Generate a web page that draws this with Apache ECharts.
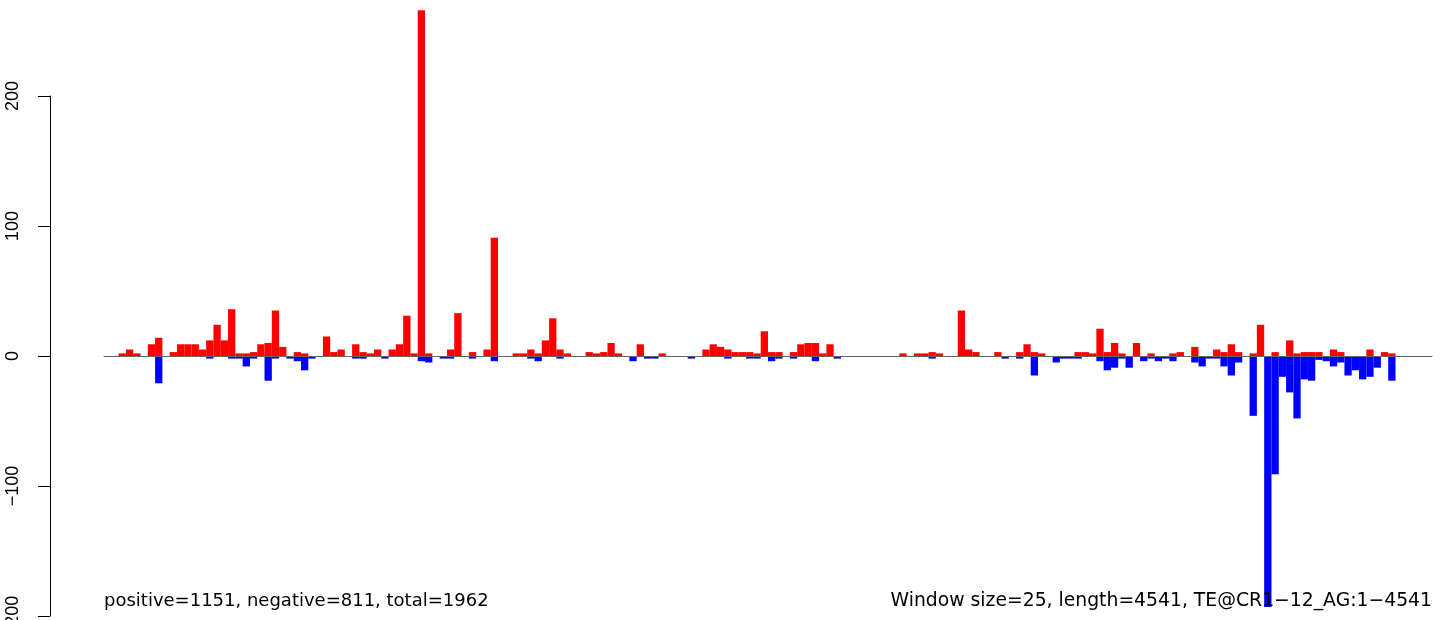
<!DOCTYPE html>
<html>
<head>
<meta charset="utf-8">
<script src="https://cdn.jsdelivr.net/npm/echarts@6/dist/echarts.min.js"></script>
<style>html,body{margin:0;padding:0;background:#fff}#c{width:1444px;height:620px}</style>
</head>
<body>
<div id="c"></div>
<script>
// window start positions (window size 25, length 4541)
const windowSize = 25;
const seqLength = 4541;
const categories = [];
for (let s = 0; s < seqLength; s += windowSize) categories.push(s);

// positive counts per window (red)
const positiveCounts = [
  0,0,2,5,2,0,9,14,0,3,
  9,9,9,5,12,24,12,36,2,2,
  3,9,10,35,7,0,3,2,0,0,
  15,3,5,0,9,3,2,5,0,5,
  9,31,2,266,2,0,0,5,33,0,
  3,0,5,91,0,0,2,2,5,2,
  12,29,5,2,0,0,3,2,3,10,
  2,0,0,9,0,0,2,0,0,0,
  0,0,5,9,7,5,3,3,3,2,
  19,3,3,0,3,9,10,10,2,9,
  0,0,0,0,0,0,0,0,0,2,
  0,2,2,3,2,0,0,35,5,3,
  0,0,3,0,0,3,9,3,2,0,
  0,0,0,3,3,2,21,3,10,2,
  0,10,0,2,0,0,2,3,0,7,
  0,0,5,3,9,3,0,2,24,0,
  3,0,12,2,3,3,3,0,5,3,
  0,0,0,5,0,3,2,0,0,0,
  0,0
];

// negative counts per window (blue)
const negativeCounts = [
  0,0,0,0,0,0,0,-21,0,0,
  0,0,0,0,-2,0,0,-2,-2,-8,
  -2,0,-19,-2,0,-2,-4,-11,-2,0,
  0,0,0,0,-2,-2,0,0,-2,0,
  0,0,0,-4,-5,0,-2,-2,0,0,
  -2,0,0,-4,0,0,0,0,-2,-4,
  0,0,-2,0,0,0,0,0,0,0,
  0,0,-4,0,-2,-2,0,0,0,0,
  -2,0,0,0,0,-2,0,0,-2,-2,
  0,-4,-2,0,-2,0,0,-4,0,0,
  -2,0,0,0,0,0,0,0,0,0,
  0,0,0,-2,0,0,0,0,0,0,
  0,0,0,-2,0,-2,0,-15,0,0,
  -5,-2,-2,-2,0,0,-4,-11,-9,-2,
  -9,0,-4,-2,-4,-2,-4,0,0,-5,
  -8,-2,-2,-8,-15,-5,0,-46,0,-193,
  -91,-16,-28,-48,-18,-19,-3,-4,-8,-5,
  -15,-11,-18,-16,-9,0,-19,0,0,0,
  0,0
];

const yTicks = [-200, -100, 0, 100, 200];
const leftNote = 'positive=1151, negative=811, total=1962';
const rightNote = 'Window size=25, length=4541, TE@CR1\u221212_AG:1\u22124541';

const chart = echarts.init(document.getElementById('c'), null, {renderer: 'canvas'});
chart.setOption({
  animation: false,
  backgroundColor: '#ffffff',
  grid: {left: 104, right: 12, top: 96, bottom: 4, containLabel: false, outerBoundsMode: 'none'},
  xAxis: {
    type: 'category',
    data: categories,
    boundaryGap: true,
    z: 5,
    axisLine: {show: true, onZero: true, lineStyle: {color: '#666666', width: 1}},
    axisTick: {show: false},
    axisLabel: {show: false},
    splitLine: {show: false}
  },
  yAxis: {
    type: 'value',
    min: yTicks[0],
    max: yTicks[yTicks.length - 1],
    interval: 100,
    offset: 54,
    axisLine: {show: true, lineStyle: {color: '#000', width: 1}},
    axisTick: {show: true, inside: false, length: 12, lineStyle: {color: '#000', width: 1}},
    axisLabel: {
      rotate: 90,
      margin: 28,
      fontSize: 18,
      fontFamily: 'Liberation Sans, Arial, sans-serif',
      color: '#000',
      showMinLabel: true,
      showMaxLabel: true,
      formatter: v => String(v).replace('-', '\u2212')
    },
    splitLine: {show: false}
  },
  series: [
    {
      type: 'bar',
      name: 'positive',
      data: positiveCounts,
      clip: false,
      barGap: '-100%',
      barCategoryGap: '0%',
      itemStyle: {color: '#ff0000'}
    },
    {
      type: 'bar',
      name: 'negative',
      data: negativeCounts,
      clip: false,
      barGap: '-100%',
      barCategoryGap: '0%',
      itemStyle: {color: '#0000ff'}
    }
  ],
  graphic: [
    {
      type: 'text', x: 104, y: 601, z: 100,
      style: {text: leftNote, fontSize: 18, fontFamily: 'DejaVu Sans', fill: '#000',
              align: 'left', textAlign: 'left', verticalAlign: 'middle', textVerticalAlign: 'middle'}
    },
    {
      type: 'text', x: 1432, y: 601, z: 100,
      style: {text: rightNote, fontSize: 18.8, fontFamily: 'DejaVu Sans', fill: '#000',
              align: 'right', textAlign: 'right', verticalAlign: 'middle', textVerticalAlign: 'middle'}
    }
  ]
});
</script>
</body>
</html>
